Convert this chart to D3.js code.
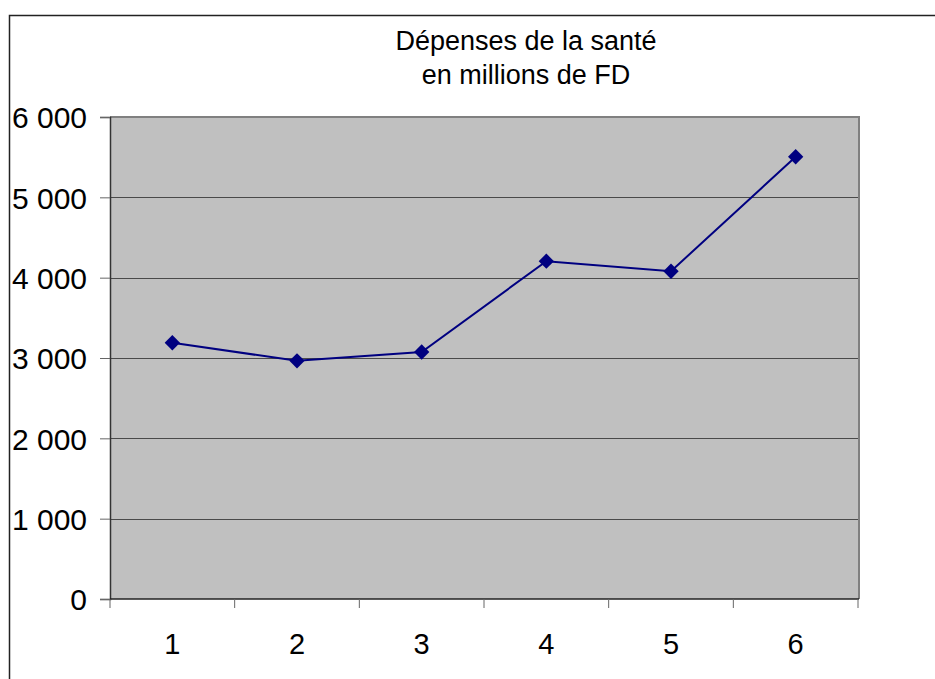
<!DOCTYPE html>
<html>
<head>
<meta charset="utf-8">
<script src="https://cdn.jsdelivr.net/npm/d3@7"></script>
<style>
  body { margin: 0; background: #fff; }
  text { font-family: "Liberation Sans", Arial, sans-serif; }
</style>
</head>
<body>
<script>
// data
const categories = ["1", "2", "3", "4", "5", "6"];
const values = [3190, 2965, 3075, 4205, 4080, 5505];
const yTicks = [0, 1000, 2000, 3000, 4000, 5000, 6000];
const titleLines = ["Dépenses de la santé", "en millions de FD"];

let width = 935,
    height = 679;

let margin = { top: 117, bottom: 80, left: 110, right: 77 };

let svg = d3.select('body')
            .append('svg')
            .attr('width', width)
            .attr('height', height)
            .style('display', 'block')

// outer frame of the chart
svg.append('rect')
   .attr('x', 9.5)
   .attr('y', 15.5)
   .attr('width', 1000)
   .attr('height', 1000)
   .attr('fill', 'white')
   .attr('stroke', '#222')
   .attr('stroke-width', 1.5)

let xScale = d3.scaleBand()
              .domain(categories)
              .range([margin.left, width - margin.right])

let yScale = d3.scaleLinear()
              .domain([0, 6000])
              .range([height - margin.bottom, margin.top])

// plot area
svg.append('rect')
   .attr('x', margin.left)
   .attr('y', margin.top)
   .attr('width', width - margin.right - margin.left)
   .attr('height', height - margin.bottom - margin.top)
   .attr('fill', '#c0c0c0')

// gridlines
svg.append('g')
   .selectAll('line')
   .data(yTicks.filter(d => d > 0))
   .enter()
   .append('line')
   .attr('x1', margin.left)
   .attr('x2', width - margin.right)
   .attr('y1', d => Math.round(yScale(d)) + 0.5)
   .attr('y2', d => Math.round(yScale(d)) + 0.5)
   .attr('stroke', '#4a4a4a')
   .attr('stroke-width', 1)

// right / top border of plot area
svg.append('line')
   .attr('x1', width - margin.right + 1)
   .attr('x2', width - margin.right + 1)
   .attr('y1', margin.top)
   .attr('y2', height - margin.bottom)
   .attr('stroke', '#808080')
   .attr('stroke-width', 2)

svg.append('line')
   .attr('x1', margin.left)
   .attr('x2', width - margin.right + 2)
   .attr('y1', margin.top)
   .attr('y2', margin.top)
   .attr('stroke', '#808080')
   .attr('stroke-width', 2)

// y axis
let yAxis = svg.append('g')
              .attr('transform', `translate(${margin.left}, 0)`)
              .call(d3.axisLeft(yScale)
                      .tickValues(yTicks)
                      .tickSize(10)
                      .tickPadding(13)
                      .tickFormat(d => d3.format(',')(d).replace(/,/g, ' ')))

yAxis.select('.domain').attr('stroke', '#333').attr('stroke-width', 1.5)
yAxis.selectAll('.tick line').attr('stroke', '#666')
yAxis.selectAll('.tick text')
     .attr('font-size', '30px')
     .attr('fill', '#000')
     .attr('dy', '0.36em')

// x axis (ticks at category boundaries)
let xAxisG = svg.append('g')
              .attr('transform', `translate(0, ${height - margin.bottom})`)

xAxisG.append('line')
      .attr('x1', margin.left)
      .attr('x2', width - margin.right + 1)
      .attr('y1', 0)
      .attr('y2', 0)
      .attr('stroke', '#222')
      .attr('stroke-width', 1.5)

let bounds = categories.map(c => xScale(c)).concat([xScale(categories[categories.length - 1]) + xScale.bandwidth()])

xAxisG.selectAll('.xtick')
      .data(bounds)
      .enter()
      .append('line')
      .attr('class', 'xtick')
      .attr('x1', d => d)
      .attr('x2', d => d)
      .attr('y1', 0)
      .attr('y2', 9)
      .attr('stroke', '#666')

xAxisG.selectAll('.xlabel')
      .data(categories)
      .enter()
      .append('text')
      .attr('class', 'xlabel')
      .attr('x', d => xScale(d) + xScale.bandwidth() / 2)
      .attr('y', 55)
      .attr('text-anchor', 'middle')
      .attr('font-size', '29px')
      .attr('fill', '#000')
      .text(d => d)

// title
svg.append('g')
   .selectAll('text')
   .data(titleLines)
   .enter()
   .append('text')
   .attr('x', 526)
   .attr('y', (d, i) => 50 + i * 34)
   .attr('text-anchor', 'middle')
   .attr('font-size', '27px')
   .attr('fill', '#000')
   .text(d => d)

// line
let line = d3.line()
            .x((d, i) => xScale(categories[i]) + xScale.bandwidth() / 2)
            .y(d => yScale(d))

svg.append('path')
   .datum(values)
   .attr('fill', 'none')
   .attr('stroke', '#000080')
   .attr('stroke-width', 2)
   .attr('d', line)

// diamond markers
svg.selectAll('.marker')
   .data(values)
   .enter()
   .append('path')
   .attr('class', 'marker')
   .attr('d', d3.symbol().type(d3.symbolDiamond2).size(150))
   .attr('transform', (d, i) => `translate(${xScale(categories[i]) + xScale.bandwidth() / 2}, ${yScale(d)})`)
   .attr('fill', '#000080')
</script>
</body>
</html>
